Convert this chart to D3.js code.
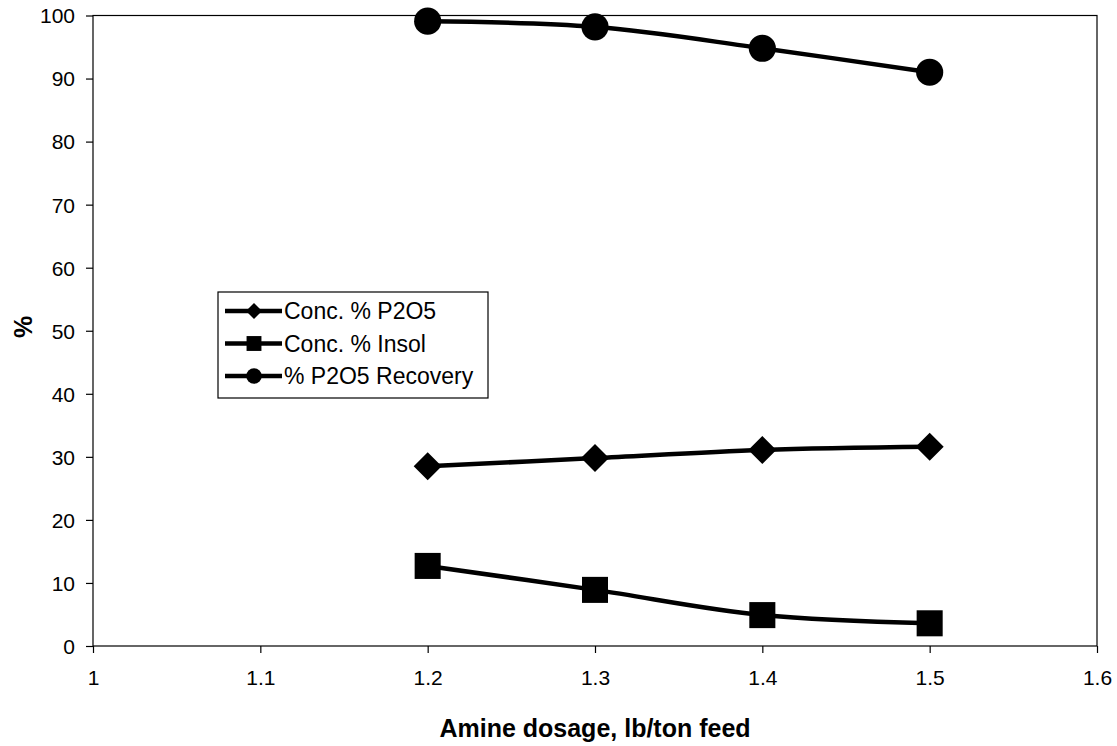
<!DOCTYPE html>
<html>
<head>
<meta charset="utf-8">
<script src="https://cdn.jsdelivr.net/npm/d3@7"></script>
<style>
  body { margin: 0; background: #fff; }
  svg { display: block; font-family: Arial, "Liberation Sans", sans-serif; }
  .axis path, .axis line { stroke: #000; stroke-width: 1.2; }
  .axis text { font-size: 21px; fill: #000; }
</style>
</head>
<body>
<svg id="chart" width="1117" height="746"></svg>
<script>
// values
const dosage   = [1.2, 1.3, 1.4, 1.5];
const concP2O5 = [28.5, 29.8, 31.1, 31.6];
const insol    = [12.7, 8.9, 4.9, 3.6];
const recovery = [99.1, 98.2, 94.8, 91.0];

const xTicks = [1, 1.1, 1.2, 1.3, 1.4, 1.5, 1.6];
const yTicks = [0, 10, 20, 30, 40, 50, 60, 70, 80, 90, 100];

const series = [
  { name: 'Conc. % P2O5',    values: concP2O5, marker: 'diamond' },
  { name: 'Conc. % Insol',   values: insol,    marker: 'square' },
  { name: '% P2O5 Recovery', values: recovery, marker: 'circle' }
];

const margin = { left: 93, top: 15.5, right: 20, bottom: 100 };
const width  = 1097 - margin.left;
const height = 646 - margin.top;

const svg = d3.select('#chart');
const g = svg.append('g').attr('transform', `translate(${margin.left},${margin.top})`);

const x = d3.scaleLinear().domain([1, 1.6]).range([0, width]);
const y = d3.scaleLinear().domain([0, 100]).range([height, 0]);

// frame
g.append('rect')
  .attr('width', width).attr('height', height)
  .attr('fill', 'none').attr('stroke', '#000').attr('stroke-width', 1.2);

g.append('g')
  .attr('class', 'axis')
  .attr('transform', `translate(0,${height})`)
  .call(d3.axisBottom(x).tickValues(xTicks).tickSize(7).tickSizeOuter(0)
    .tickPadding(17).tickFormat(d3.format('')))
  .call(s => s.select('.domain').remove());

g.append('g')
  .attr('class', 'axis')
  .call(d3.axisLeft(y).tickValues(yTicks).tickSize(7).tickSizeOuter(0).tickPadding(11))
  .call(s => s.select('.domain').remove())
  .selectAll('text').attr('dy', '0.35em');

// axis titles
svg.append('text')
  .attr('x', margin.left + width / 2).attr('y', 737)
  .attr('text-anchor', 'middle')
  .style('font-size', '25px').style('font-weight', 'bold')
  .text('Amine dosage, lb/ton feed');

svg.append('text')
  .attr('transform', `translate(32,327) rotate(-90)`)
  .attr('text-anchor', 'middle')
  .style('font-size', '25px').style('font-weight', 'bold')
  .text('%');

const symbols = {
  diamond: size => `M0,${-size}L${size},0L0,${size}L${-size},0Z`,
  square:  size => { const h = size * 0.93; return `M${-h},${-h}H${h}V${h}H${-h}Z`; },
  circle:  size => d3.arc()({ innerRadius: 0, outerRadius: size * 0.97, startAngle: 0, endAngle: 2 * Math.PI })
};

const line = d3.line()
  .x(d => x(d[0]))
  .y(d => y(d[1]))
  .curve(d3.curveCatmullRom.alpha(0.5));

series.forEach(s => {
  const pts = dosage.map((d, i) => [d, s.values[i]]);
  g.append('path')
    .datum(pts)
    .attr('fill', 'none')
    .attr('stroke', '#000')
    .attr('stroke-width', 4.5)
    .attr('d', line);

  g.selectAll(null)
    .data(pts)
    .enter().append('path')
      .attr('transform', d => `translate(${x(d[0])},${y(d[1])})`)
      .attr('d', symbols[s.marker](14))
      .attr('fill', '#000');
});

// legend
const legend = svg.append('g').attr('transform', 'translate(218,292)');
legend.append('rect')
  .attr('width', 270).attr('height', 106)
  .attr('fill', '#fff').attr('stroke', '#000').attr('stroke-width', 1.2);

const item = legend.selectAll('.item')
  .data(series)
  .enter().append('g')
    .attr('class', 'item')
    .attr('transform', (d, i) => `translate(0,${19 + i * 32.5})`);

item.append('line')
  .attr('x1', 7).attr('x2', 64)
  .attr('stroke', '#000').attr('stroke-width', 4.5);

item.append('path')
  .attr('transform', 'translate(36,0)')
  .attr('d', d => symbols[d.marker](8))
  .attr('fill', '#000');

item.append('text')
  .attr('x', 66).attr('dy', '0.35em')
  .style('font-size', '23px')
  .text(d => d.name);
</script>
</body>
</html>
